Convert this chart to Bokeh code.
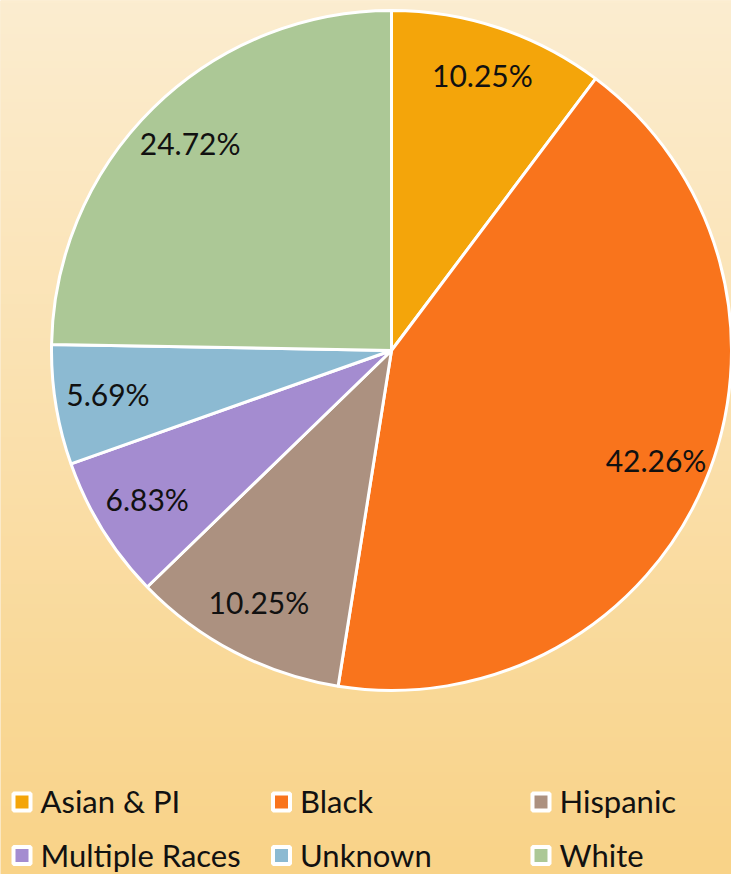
import numpy as np
from bokeh.plotting import figure
from bokeh.models import Range1d, ColumnDataSource
from bokeh.core.properties import value
from bokeh.embed import file_html
from bokeh.resources import INLINE

# ---- data ----
categories = ["Asian & PI", "Black", "Hispanic", "Multiple Races", "Unknown", "White"]
percents = [10.25, 42.26, 10.25, 6.83, 5.69, 24.72]
colors = ["#F4A50A", "#F9741C", "#AC9180", "#A48CD0", "#8CBAD2", "#ACC896"]

# ---- layout (page pixel coords; data y = PAGE_H - page_y) ----
PAGE_W, PAGE_H = 731, 874
W, H = 731, 874
FONT = "Lato"

def py(y_page):
    return PAGE_H - y_page

p = figure(width=W, height=H, x_range=Range1d(0, W), y_range=Range1d(0, H),
           output_backend="svg", toolbar_location=None, min_border=0,
           x_axis_location=None, y_axis_location=None)
p.grid.visible = False
p.outline_line_color = None
p.background_fill_color = "#FAE0AE"
p.border_fill_color = "#FAE0AE"

# background gradient (top cream -> bottom warm yellow)
n = 256
t = np.linspace(0, 1, n)  # 0 = bottom row, 1 = top row
top = np.array([252, 237, 208])
bot = np.array([249, 211, 136])
rgb = (bot[None, :] * (1 - t[:, None]) + top[None, :] * t[:, None]).astype(np.uint32)
img = np.empty((n, 2), dtype=np.uint32)
view = img.view(dtype=np.uint8).reshape((n, 2, 4))
view[:, :, 0] = rgb[:, 0][:, None]
view[:, :, 1] = rgb[:, 1][:, None]
view[:, :, 2] = rgb[:, 2][:, None]
view[:, :, 3] = 255
p.image_rgba(image=[img], x=0, y=0, dw=W, dh=H)

# ---- pie ----
cx, cy, r = 391, py(350), 340
vals = np.array(percents, dtype=float)
frac = vals / vals.sum()
cum = np.cumsum(frac)
start_cw = cum - frac
end_cw = cum
start_angle = np.pi / 2 - 2 * np.pi * start_cw
end_angle = np.pi / 2 - 2 * np.pi * end_cw
mid = np.pi / 2 - 2 * np.pi * (start_cw + end_cw) / 2
label_r = 0.845 * r
label_dy = 3  # nudge text up to centre the cap height

src = ColumnDataSource(dict(
    cat=categories, color=colors,
    start=start_angle, end=end_angle,
    lx=cx + label_r * np.cos(mid),
    ly=cy + label_r * np.sin(mid) + label_dy,
    label=[f"{v:.2f}%" for v in percents],
))
p.wedge(x=cx, y=cy, radius=r, start_angle="start", end_angle="end", direction="clock",
        fill_color="color", line_color="white", line_width=3, source=src)
p.text(x="lx", y="ly", text="label", source=src, text_align="center",
       text_baseline="middle", text_font=value(FONT), text_font_size="30px",
       text_color="#111111")

# ---- legend (3 columns x 2 rows) ----
ncol = 3
col_x0, col_dx = 21.5, 259.5
row_y0, row_dy = 801.5, 53.5
idx = np.arange(len(categories))
bx = col_x0 + (idx % ncol) * col_dx
by = np.array([py(row_y0 + (i // ncol) * row_dy) for i in idx])
lsrc = ColumnDataSource(dict(bx=bx, by=by, tx=bx + 18.5, ty=by + 1,
                             cat=categories, color=colors))
p.rect(x="bx", y="by", width=17, height=17, width_units="screen", height_units="screen",
       fill_color="color", line_color="white", line_width=4, source=lsrc)
p.text(x="tx", y="ty", text="cat", source=lsrc, text_align="left",
       text_baseline="middle", text_font=value(FONT), text_font_size="31px",
       text_color="#111111")

open("out.html", "w").write(file_html(p, INLINE))
